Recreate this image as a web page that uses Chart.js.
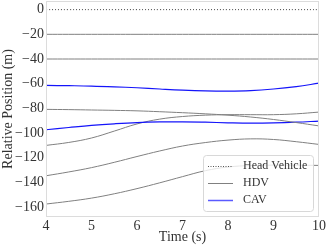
<!DOCTYPE html>
<html>
<head>
<meta charset="utf-8">
<script src="https://cdn.jsdelivr.net/npm/chart.js@4/dist/chart.umd.min.js"></script>
<style>
  html, body { margin: 0; padding: 0; background: #fff; }
  #wrap { width: 327px; height: 248px; }
</style>
</head>
<body>
<div id="wrap"><canvas id="chart"></canvas></div>
<script>
// time axis (s)
const time = [4, 4.5, 5, 5.5, 6, 6.5, 7, 7.5, 8, 8.5, 9, 9.5, 10];

// relative positions (m)
const head = [0, 0, 0, 0, 0, 0, 0, 0, 0, 0, 0, 0, 0];
const hdv1 = [-20, -20, -20, -20, -20, -20, -20, -20, -20, -20, -20, -20, -20];
const hdv2 = [-40, -40, -40, -40, -40, -40, -40, -40, -40, -40, -40, -40, -40];
const cav1 = [-61.4, -61.6, -61.9, -62.5, -63.3, -64.3, -65.2, -65.8, -66, -65.6, -64.3, -62.3, -59.6];
const hdv3 = [-80.8, -81, -81.3, -81.6, -82, -82.7, -83.5, -84.4, -85.5, -87, -89, -91.5, -94.2];
const cav2 = [-97.3, -95.5, -93.8, -92.5, -91.5, -91, -90.9, -91.2, -91.7, -92, -91.8, -91.2, -90.3];
const hdv4 = [-110, -107.6, -104, -98.4, -92.6, -88.7, -86.6, -85.5, -85.1, -85.1, -85.1, -84.4, -83];
const hdv5 = [-134.6, -131.5, -128, -123.7, -119, -114.5, -110.5, -107.7, -105.7, -104.7, -105.2, -107, -109.2];
const hdv6 = [-157.5, -155.3, -152.7, -149.2, -145, -140.3, -135.3, -130.5, -127.5, -126.3, -126, -126, -126.2];

const xTicks = [4, 5, 6, 7, 8, 9, 10];
const yTicks = [0, -20, -40, -60, -80, -100, -120, -140, -160];
const legendLabels = ['Head Vehicle', 'HDV', 'CAV'];

const GRAY = '#808080';
const BLUE = 'rgb(20,20,250)';
const SERIF = '"Liberation Serif", "Times New Roman", serif';

function pts(ys) {
  return ys.map((y, i) => ({ x: time[i], y: y }));
}

function line(label, ys, color, width, dash) {
  return {
    label: label,
    data: pts(ys),
    borderColor: color,
    borderWidth: width,
    borderDash: dash || [],
    pointRadius: 0,
    fill: false,
    tension: 0.4
  };
}

const datasets = [
  line('Head Vehicle', head, '#444', 1, [1, 2]),
  line('HDV', hdv1, GRAY, 1),
  line('HDV', hdv2, GRAY, 1),
  line('CAV', cav1, BLUE, 1.2),
  line('HDV', hdv3, GRAY, 1),
  line('CAV', cav2, BLUE, 1.2),
  line('HDV', hdv4, GRAY, 1),
  line('HDV', hdv5, GRAY, 1),
  line('HDV', hdv6, GRAY, 1)
];

// frame round the plot + legend inside the lower right corner
const framePlugin = {
  id: 'frame',
  afterDatasetsDraw(chart) {
    const ctx = chart.ctx;
    const a = chart.chartArea;
    ctx.save();
    ctx.strokeStyle = '#dcdcdc';
    ctx.lineWidth = 1;
    ctx.strokeRect(a.left + 0.5, a.top + 0.5, a.right - a.left - 1, a.bottom - a.top - 1);

    // legend box
    const bx = 203.5, by = 155.5, bw = 110, bh = 56, r = 3;
    ctx.beginPath();
    ctx.roundRect(bx, by, bw, bh, r);
    ctx.fillStyle = 'rgba(255,255,255,0.8)';
    ctx.fill();
    ctx.strokeStyle = '#d8d8d8';
    ctx.stroke();

    const styles = [
      { color: '#555', dash: [1, 1.5], width: 1 },
      { color: GRAY, dash: [], width: 1 },
      { color: 'rgb(90,90,255)', dash: [], width: 1.5 }
    ];
    ctx.font = '12px ' + SERIF;
    ctx.textBaseline = 'middle';
    legendLabels.forEach((txt, i) => {
      const y = 166 + i * 16.8;
      ctx.beginPath();
      ctx.setLineDash(styles[i].dash);
      ctx.strokeStyle = styles[i].color;
      ctx.lineWidth = styles[i].width;
      ctx.moveTo(208, Math.round(y) + 0.5);
      ctx.lineTo(233, Math.round(y) + 0.5);
      ctx.stroke();
      ctx.setLineDash([]);
      ctx.fillStyle = '#333';
      ctx.fillText(txt, 243, y);
    });
    ctx.restore();
  }
};

const minus = v => String(v).replace('-', '\u2212');

new Chart(document.getElementById('chart'), {
  type: 'line',
  data: { datasets: datasets },
  options: {
    responsive: true,
    maintainAspectRatio: false,
    animation: false,
    layout: { padding: { top: 1, right: 8, left: 0, bottom: 0 } },
    plugins: {
      legend: { display: false },
      tooltip: { enabled: false }
    },
    scales: {
      x: {
        type: 'linear',
        min: 4,
        max: 10,
        afterBuildTicks: s => { s.ticks = xTicks.map(v => ({ value: v })); },
        afterFit: s => { s.height = 31; s.paddingLeft = 0; s.paddingRight = 0; },
        grid: { display: false, drawTicks: false },
        border: { display: false },
        ticks: { color: '#333', font: { family: SERIF, size: 14 }, padding: 1, callback: minus },
        title: { display: true, text: 'Time (s)', color: '#333', font: { family: SERIF, size: 14 }, padding: { top: 0, bottom: 2 } }
      },
      y: {
        type: 'linear',
        min: -168,
        max: 7,
        afterBuildTicks: s => { s.ticks = yTicks.map(v => ({ value: v })); },
        afterFit: s => { s.width = 46; s.paddingTop = 0; s.paddingBottom = 0; },
        grid: { display: false, drawTicks: false },
        border: { display: false },
        ticks: { color: '#333', font: { family: SERIF, size: 14 }, padding: 2, callback: minus },
        title: { display: true, text: 'Relative Position (m)', color: '#333', font: { family: SERIF, size: 14 }, padding: { top: 0, bottom: 0 } }
      }
    }
  },
  plugins: [framePlugin]
});
</script>
</body>
</html>
